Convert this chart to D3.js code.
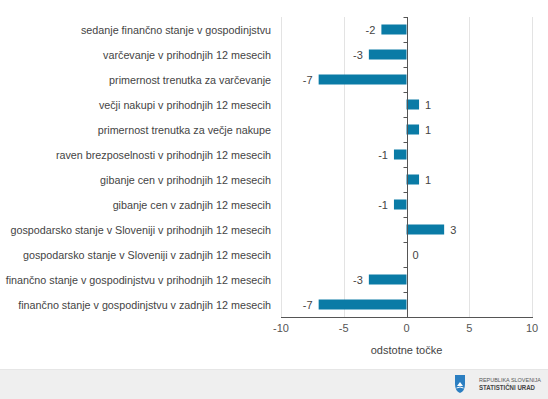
<!DOCTYPE html>
<html><head><meta charset="utf-8">
<script src="https://cdn.jsdelivr.net/npm/d3@7"></script>
<style>body{margin:0;background:#fff}svg{display:block}</style>
</head><body>
<svg id="c" width="548" height="399"></svg>
<script>
const categories = [
  "sedanje finančno stanje v gospodinjstvu",
  "varčevanje v prihodnjih 12 mesecih",
  "primernost trenutka za varčevanje",
  "večji nakupi v prihodnjih 12 mesecih",
  "primernost trenutka za večje nakupe",
  "raven brezposelnosti v prihodnjih 12 mesecih",
  "gibanje cen v prihodnjih 12 mesecih",
  "gibanje cen v zadnjih 12 mesecih",
  "gospodarsko stanje v Sloveniji v prihodnjih 12 mesecih",
  "gospodarsko stanje v Sloveniji v zadnjih 12 mesecih",
  "finančno stanje v gospodinjstvu v prihodnjih 12 mesecih",
  "finančno stanje v gospodinjstvu v zadnjih 12 mesecih"
];
const values = [-2, -3, -7, 1, 1, -1, 1, -1, 3, 0, -3, -7];
const xTicks = [-10, -5, 0, 5, 10];
const axisTitle = "odstotne točke";
const footerLines = ["REPUBLIKA SLOVENIJA", "STATISTIČNI URAD"];

(function () {
const svg = d3.select("#c");
const font = "'Liberation Sans', Arial, sans-serif";
const mL = 281, mR = 532, mT = 17, mB = 317;
const x = d3.scaleLinear().domain([-10, 10]).range([mL, mR]);
const yb = d3.scaleBand().domain(categories).range([mT, mB]);

// gridlines
svg.append("g").selectAll("line").data(xTicks.filter(d => d !== 0)).join("line")
  .attr("x1", d => Math.round(x(d))+0.5).attr("x2", d => Math.round(x(d))+0.5)
  .attr("y1", mT).attr("y2", mB)
  .attr("stroke", "#e3e3e3").attr("stroke-width", 1);

// bars
svg.append("g").selectAll("rect").data(values).join("rect")
  .attr("x", d => x(Math.min(0, d)))
  .attr("width", d => Math.abs(x(d) - x(0)))
  .attr("y", (d, i) => yb(categories[i]) + yb.bandwidth()/2 - 5)
  .attr("height", 10)
  .attr("fill", "#0a7ba6");

// zero axis with ticks
const z = Math.round(x(0)) + 0.5;
svg.append("line").attr("x1", z).attr("x2", z).attr("y1", mT).attr("y2", mB)
  .attr("stroke", "#555").attr("stroke-width", 1);
svg.append("g").selectAll("line").data(d3.range(categories.length + 1)).join("line")
  .attr("x1", z - 4).attr("x2", z)
  .attr("y1", i => Math.round(mT + i * yb.step()) + 0.5)
  .attr("y2", i => Math.round(mT + i * yb.step()) + 0.5)
  .attr("stroke", "#555");

// bottom axis
svg.append("line").attr("x1", mL).attr("x2", mR + 1).attr("y1", mB + 0.5).attr("y2", mB + 0.5)
  .attr("stroke", "#555");
svg.append("g").selectAll("text").data(xTicks).join("text")
  .attr("x", d => x(d)).attr("y", mB + 15)
  .attr("text-anchor", "middle").attr("font-family", font).attr("font-size", 11)
  .attr("fill", "#555").text(d => d);
svg.append("text").attr("x", x(0)).attr("y", mB + 37)
  .attr("text-anchor", "middle").attr("font-family", font).attr("font-size", 11)
  .attr("fill", "#444").text(axisTitle);

// category labels
svg.append("g").selectAll("text").data(categories).join("text")
  .attr("x", 271).attr("y", d => yb(d) + yb.bandwidth()/2 + 4)
  .attr("text-anchor", "end").attr("font-family", font).attr("font-size", 10.75)
  .attr("fill", "#444").text(d => d);

// value labels
svg.append("g").selectAll("text").data(values).join("text")
  .attr("x", d => d < 0 ? x(d) - 6 : x(d) + 6)
  .attr("y", (d, i) => yb(categories[i]) + yb.bandwidth()/2 + 4)
  .attr("text-anchor", d => d < 0 ? "end" : "start")
  .attr("font-family", font).attr("font-size", 11).attr("fill", "#444")
  .text(d => d);

// footer
svg.append("rect").attr("x", 0).attr("y", 370).attr("width", 548).attr("height", 29).attr("fill", "#efefef");
svg.append("line").attr("x1", 0).attr("x2", 548).attr("y1", 369.5).attr("y2", 369.5).attr("stroke", "#e6e6e6");
const lg = svg.append("g").attr("transform", "translate(455,375)");
lg.append("path").attr("d", "M0,0 L10,0 L10,9 Q10,16 5,18 Q0,16 0,9 Z").attr("fill", "#2b7ec1");
lg.append("path").attr("d", "M2,11 L5,7 L8,11 Z").attr("fill", "#fff");
lg.append("path").attr("d", "M1.5,13 Q5,11 8.5,13").attr("stroke", "#fff").attr("fill", "none").attr("stroke-width", 1);
svg.append("text").attr("x", 479).attr("y", 382).attr("font-family", font).attr("font-size", 6)
  .attr("textLength", 62).attr("lengthAdjust", "spacingAndGlyphs")
  .attr("fill", "#555").text(footerLines[0]);
svg.append("text").attr("x", 479).attr("y", 390).attr("font-family", font).attr("font-size", 6.5)
  .attr("textLength", 56).attr("lengthAdjust", "spacingAndGlyphs")
  .attr("font-weight", "bold").attr("fill", "#444").text(footerLines[1]);
})();
</script>
</body></html>
